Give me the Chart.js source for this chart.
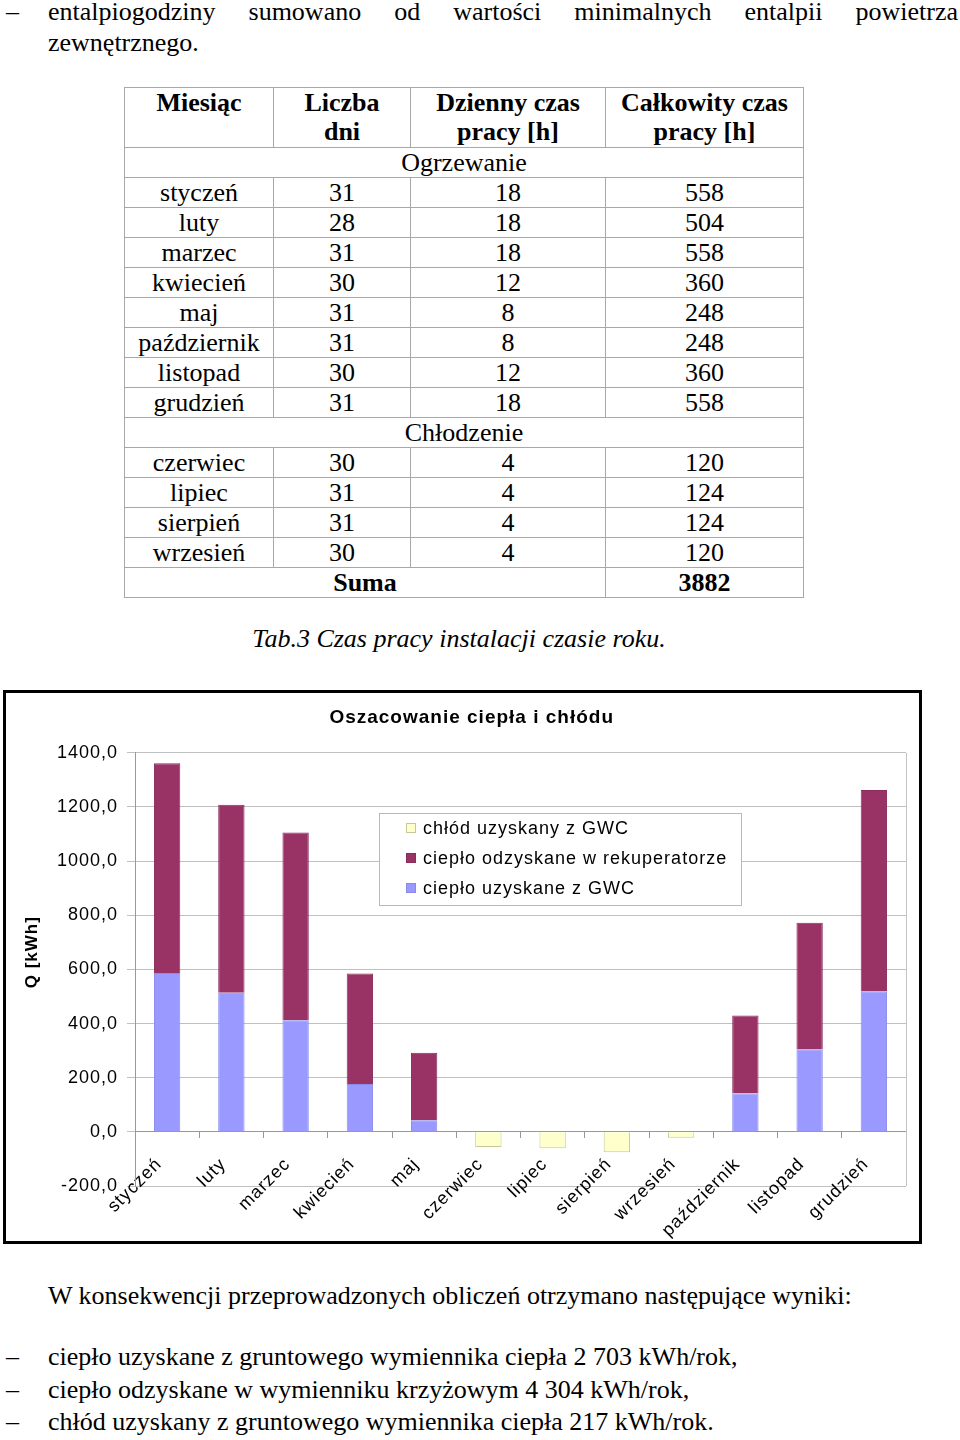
<!DOCTYPE html>
<html lang="pl">
<head>
<meta charset="utf-8">
<script src="https://cdn.jsdelivr.net/npm/chart.js@4.4.1/dist/chart.umd.min.js"></script>
<style>
  html,body{margin:0;padding:0;background:#fff;}
  body{width:960px;height:1440px;position:relative;overflow:hidden;font-family:"Liberation Serif","Times New Roman",serif;color:#000;}
  .ln{position:absolute;font-size:26px;line-height:30px;white-space:nowrap;}
  .just{left:48px;width:910px;text-align:justify;text-align-last:justify;white-space:normal;}
  .dash{position:absolute;left:6px;font-size:26px;line-height:30px;}
  #tab{position:absolute;left:124px;top:87px;border-collapse:collapse;font-size:26px;}
  #tab td{border:1px solid #a8a8a8;text-align:center;padding:0;height:29px;line-height:28px;}
  #tab .hd td{font-weight:bold;height:59px;line-height:29px;vertical-align:top;}
  #tab .b{font-weight:bold;}
  #cap{position:absolute;left:0;width:918px;top:624px;text-align:center;font-style:italic;font-size:26px;line-height:30px;}
  #frame{position:absolute;left:3px;top:690px;width:919px;height:554px;box-sizing:border-box;border:3px solid #000;background:#fff;}
  #wrap{position:absolute;left:0;top:0;width:913px;height:548px;}
</style>
</head>
<body>
<span class="dash" style="top:-3px">–</span>
<div class="ln just" style="top:-3px">entalpiogodziny sumowano od wartości minimalnych entalpii powietrza</div>
<div class="ln" style="left:48px;top:28px">zewnętrznego.</div>

<table id="tab">
  <colgroup><col style="width:149px"><col style="width:137px"><col style="width:195px"><col style="width:198px"></colgroup>
  <tbody id="tbody"></tbody>
</table>
<div id="cap">Tab.3 Czas pracy instalacji czasie roku.</div>

<div id="frame"><div id="wrap"><canvas id="chart"></canvas></div></div>

<div class="ln" style="left:48px;top:1281px">W konsekwencji przeprowadzonych obliczeń otrzymano następujące wyniki:</div>
<span class="dash" style="top:1342px">–</span>
<div class="ln" style="left:48px;top:1342px">ciepło uzyskane z gruntowego wymiennika ciepła 2 703 kWh/rok,</div>
<span class="dash" style="top:1375px">–</span>
<div class="ln" style="left:48px;top:1375px">ciepło odzyskane w wymienniku krzyżowym 4 304 kWh/rok,</div>
<span class="dash" style="top:1407px">–</span>
<div class="ln" style="left:48px;top:1407px">chłód uzyskany z gruntowego wymiennika ciepła 217 kWh/rok.</div>

<script>
// table data
const tableHead = ['Miesiąc', 'Liczba<br>dni', 'Dzienny czas<br>pracy [h]', 'Całkowity czas<br>pracy [h]'];
const heatMonths = ['styczeń','luty','marzec','kwiecień','maj','październik','listopad','grudzień'];
const heatDays   = [31, 28, 31, 30, 31, 31, 30, 31];
const heatHours  = [18, 18, 18, 12, 8, 8, 12, 18];
const heatTotal  = [558, 504, 558, 360, 248, 248, 360, 558];
const coolMonths = ['czerwiec','lipiec','sierpień','wrzesień'];
const coolDays   = [30, 31, 31, 30];
const coolHours  = [4, 4, 4, 4];
const coolTotal  = [120, 124, 124, 120];
const sumTotal   = 3882;

// chart data (kWh)
const months = ['styczeń','luty','marzec','kwiecień','maj','czerwiec','lipiec','sierpień','wrzesień','październik','listopad','grudzień'];
const heatGwc   = [587, 514, 412, 177, 43, null, null, null, null, 142, 305, 519];
const heatRecup = [774, 694, 694, 408, 249, null, null, null, null, 288, 467, 744];
const coolGwc   = [null, null, null, null, null, -56, -61, -75, -22, null, null, null];
const yTicks = { min: -200, max: 1400, step: 200 };

(function(){
  const tb = document.getElementById('tbody');
  let html = '<tr class="hd">' + tableHead.map(h => '<td>' + h + '</td>').join('') + '</tr>';
  html += '<tr><td colspan="4">Ogrzewanie</td></tr>';
  heatMonths.forEach((m,i) => { html += `<tr><td>${m}</td><td>${heatDays[i]}</td><td>${heatHours[i]}</td><td>${heatTotal[i]}</td></tr>`; });
  html += '<tr><td colspan="4">Chłodzenie</td></tr>';
  coolMonths.forEach((m,i) => { html += `<tr><td>${m}</td><td>${coolDays[i]}</td><td>${coolHours[i]}</td><td>${coolTotal[i]}</td></tr>`; });
  html += `<tr><td colspan="3" class="b">Suma</td><td class="b">${sumTotal}</td></tr>`;
  tb.innerHTML = html;
})();

const SANS = "'Liberation Sans', Arial, sans-serif";

// legend box drawn inside the plot, like the spreadsheet original
const boxLegend = {
  id: 'boxLegend',
  beforeDraw(chart){ chart.ctx.letterSpacing = '1px'; },
  beforeDatasetsDraw(chart){
    const {ctx, chartArea:a} = chart;
    ctx.save();
    ctx.strokeStyle = '#c4c4c4'; ctx.lineWidth = 1;
    ctx.beginPath(); ctx.moveTo(Math.round(a.right)+0.5, a.top); ctx.lineTo(Math.round(a.right)+0.5, a.bottom); ctx.stroke();
    ctx.restore();
  },
  afterDraw(chart){
    const ctx = chart.ctx;
    const x = 373, y = 120, w = 362, h = 92;
    ctx.save();
    ctx.fillStyle = '#fff'; ctx.fillRect(x, y, w, h);
    ctx.strokeStyle = '#b8b8b8'; ctx.lineWidth = 1; ctx.strokeRect(x + 0.5, y + 0.5, w, h);
    ctx.font = '18px ' + SANS; ctx.textBaseline = 'middle'; ctx.fillStyle = '#000';
    const ds = chart.data.datasets.slice().reverse();
    ds.forEach((d, i) => {
      const cy = y + 15 + i * 30;
      ctx.fillStyle = d.backgroundColor; ctx.fillRect(x + 27, cy - 5, 10, 10);
      ctx.strokeStyle = d.borderColor; ctx.strokeRect(x + 27.5, cy - 4.5, 9, 9);
      ctx.fillStyle = '#000'; ctx.fillText(d.label, x + 44, cy + 1);
    });
    ctx.restore();
  }
};

function fmt(v){ return Number(v).toFixed(1).replace('.', ','); }

new Chart(document.getElementById('chart').getContext('2d'), {
  type: 'bar',
  data: {
    labels: months,
    datasets: [
      { label: 'ciepło uzyskane z GWC', data: heatGwc, backgroundColor: '#9999ff', borderColor: '#8a8ae8', borderWidth: 1 },
      { label: 'ciepło odzyskane w rekuperatorze', data: heatRecup, backgroundColor: '#993366', borderColor: '#8a2d5c', borderWidth: 1 },
      { label: 'chłód uzyskany z GWC', data: coolGwc, backgroundColor: '#ffffcc', borderColor: '#c8c89a', borderWidth: 1 }
    ]
  },
  options: {
    responsive: true, maintainAspectRatio: false, animation: false,
    layout: { padding: { left: 0, right: 13, top: 0, bottom: 55 } },
    datasets: { bar: { barPercentage: 0.41, categoryPercentage: 1 } },
    plugins: {
      legend: { display: false },
      tooltip: { enabled: false },
      // leading spaces push the title a bit right, over the plot
      title: { display: true, text: '     Oszacowanie ciepła i chłódu', color: '#000', font: { family: SANS, size: 19, weight: 'bold' }, padding: { top: 13, bottom: 24 } }
    },
    scales: {
      x: {
        stacked: true,
        position: { y: 0 },
        afterFit: s => { s.height = 56; },
        grid: { offset: true, drawOnChartArea: false, color: '#999', tickLength: 6 },
        border: { color: '#999' },
        ticks: { color: '#000', font: { family: SANS, size: 18 }, minRotation: 45, maxRotation: 45, autoSkip: false, padding: 16, labelOffset: -8 }
      },
      y: {
        stacked: true,
        min: yTicks.min, max: yTicks.max,
        afterFit: s => { s.width = 129; },
        grid: { color: '#c0c0c0', tickLength: 8 },
        border: { color: '#999' },
        ticks: { stepSize: yTicks.step, color: '#000', padding: 9, font: { family: SANS, size: 18 }, callback: v => fmt(v) },
        // leading spaces nudge the rotated title up, as in the original
        title: { display: true, text: '      Q [kWh]', color: '#000', font: { family: SANS, size: 17, weight: 'bold' }, padding: { top: 16, bottom: 0 } }
      }
    }
  },
  plugins: [boxLegend]
});
</script>
</body>
</html>
